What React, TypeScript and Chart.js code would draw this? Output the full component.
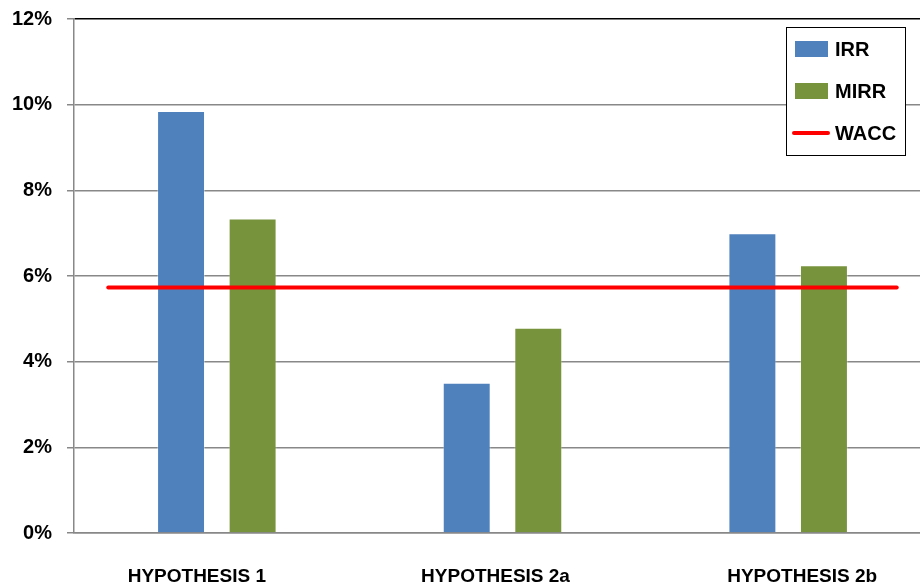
import { useEffect, useRef } from "react";
import { Chart, registerables } from "chart.js";

Chart.register(...registerables);

// Return rates per scenario, in percent
const categories = ["HYPOTHESIS 1", "HYPOTHESIS 2a", "HYPOTHESIS 2b"];
const irrValues = [9.85, 3.51, 7.0];
const mirrValues = [7.34, 4.79, 6.25];
const waccValue = 5.73;
// WACC reference line runs across the categories (in category units, 0..3)
const waccSpan = [0.12, 2.88];
const yMin = 0;
const yMax = 12;
const yStep = 2;

const seriesNames = ["IRR", "MIRR", "WACC"];
const IRR_COLOR = "#4f81bd";
const MIRR_COLOR = "#77933c";
const WACC_COLOR = "#ff0000";
const GRID_COLOR = "#888888";
const FONT = "'Liberation Sans', Arial, sans-serif";
// horizontal nudge of each category caption, px
const captionNudge = [-20, -7, 14];

// Boxed legend drawn inside the top-right corner of the plot
const boxLegend = {
  id: "boxLegend",
  afterDraw(chart: any) {
    const { ctx, chartArea } = chart;
    const left = chartArea.right - 145;
    const top = chartArea.top + 8;
    const w = 119;
    const h = 128;
    ctx.save();
    ctx.fillStyle = "#ffffff";
    ctx.fillRect(left, top, w, h);
    ctx.strokeStyle = "#000000";
    ctx.lineWidth = 1;
    ctx.strokeRect(Math.round(left) + 0.5, Math.round(top) + 0.5, w, h);
    const rows = [top + 22, top + 64, top + 106];
    const ds = chart.data.datasets;
    ctx.font = `bold 20px ${FONT}`;
    ctx.textBaseline = "middle";
    ctx.textAlign = "left";
    seriesNames.forEach((name, i) => {
      const d = ds.find((x: any) => x.label === name);
      const y = rows[i];
      if (d.type === "line") {
        ctx.strokeStyle = d.borderColor;
        ctx.lineWidth = 4;
        ctx.lineCap = "round";
        ctx.beginPath();
        ctx.moveTo(left + 8, y);
        ctx.lineTo(left + 42, y);
        ctx.stroke();
      } else {
        ctx.fillStyle = d.backgroundColor;
        ctx.fillRect(left + 9, y - 8, 33, 16);
      }
      ctx.fillStyle = "#000000";
      ctx.fillText(name, left + 49, y + 1);
    });
    ctx.restore();
  },
};

// Category captions under the x axis
const captions = {
  id: "captions",
  afterDraw(chart: any) {
    const { ctx } = chart;
    const xs = chart.scales.x;
    ctx.save();
    ctx.font = `bold 19px ${FONT}`;
    ctx.fillStyle = "#000000";
    ctx.textAlign = "center";
    ctx.textBaseline = "middle";
    chart.data.labels.forEach((lab: string, i: number) => {
      ctx.fillText(lab, xs.getPixelForTick(i) + (captionNudge[i] || 0), xs.top + 44);
    });
    ctx.restore();
  },
};

export default function App() {
  const canvasRef = useRef<HTMLCanvasElement | null>(null);

  useEffect(() => {
    if (!canvasRef.current) return;
    const chart = new Chart(canvasRef.current, {
      type: "bar",
      data: {
        labels: categories,
        datasets: [
          {
            type: "line",
            label: "WACC",
            xAxisID: "x2",
            yAxisID: "y",
            data: [
              { x: waccSpan[0], y: waccValue },
              { x: waccSpan[1], y: waccValue },
            ],
            borderColor: WACC_COLOR,
            backgroundColor: WACC_COLOR,
            borderWidth: 4,
            borderCapStyle: "round",
            pointRadius: 0,
            order: 0,
          } as any,
          {
            label: "IRR",
            data: irrValues,
            backgroundColor: IRR_COLOR,
            borderColor: "rgba(255,255,255,0.35)",
            borderWidth: 1,
            categoryPercentage: 1.002,
            barPercentage: 0.67,
            order: 1,
          },
          {
            label: "MIRR",
            data: mirrValues,
            backgroundColor: MIRR_COLOR,
            borderColor: "rgba(255,255,255,0.35)",
            borderWidth: 1,
            categoryPercentage: 1.002,
            barPercentage: 0.67,
            order: 1,
          },
        ],
      },
      options: {
        animation: false,
        responsive: false,
        maintainAspectRatio: false,
        layout: { padding: { top: 19, right: 0, left: 0, bottom: 0 } },
        plugins: {
          legend: { display: false },
          tooltip: { enabled: false },
        },
        scales: {
          x: {
            type: "category",
            offset: true,
            grid: { display: false, drawTicks: false },
            border: { display: true, color: GRID_COLOR, width: 1.5 },
            ticks: { display: false },
            afterFit: (s: any) => {
              s.height = 51;
              s.paddingLeft = 0;
              s.paddingRight = 0;
            },
          },
          x2: {
            type: "linear",
            display: false,
            position: "bottom",
            offset: false,
            grid: { offset: false },
            min: 0,
            max: 3,
          },
          y: {
            min: yMin,
            max: yMax,
            ticks: {
              stepSize: yStep,
              padding: 15,
              color: "#000000",
              font: { family: FONT, size: 20, weight: "bold" },
              callback: (v: any) => `${v}%`,
            },
            grid: {
              color: (c: any) => (c.tick && c.tick.value === yMax ? "#000000" : GRID_COLOR),
              tickColor: GRID_COLOR,
              tickLength: 7,
              lineWidth: 1.5,
            },
            border: { color: GRID_COLOR, width: 1.5 },
            afterFit: (s: any) => {
              s.width = 74;
              s.paddingTop = 0;
              s.paddingBottom = 0;
            },
          },
        },
      },
      plugins: [boxLegend, captions],
    });
    return () => chart.destroy();
  }, []);

  return (
    <div
      style={{
        position: "fixed",
        left: 0,
        top: 0,
        width: 920,
        height: 584,
        overflow: "hidden",
        background: "#ffffff",
      }}
    >
      <canvas ref={canvasRef} width={931} height={584} style={{ display: "block" }} />
    </div>
  );
}
